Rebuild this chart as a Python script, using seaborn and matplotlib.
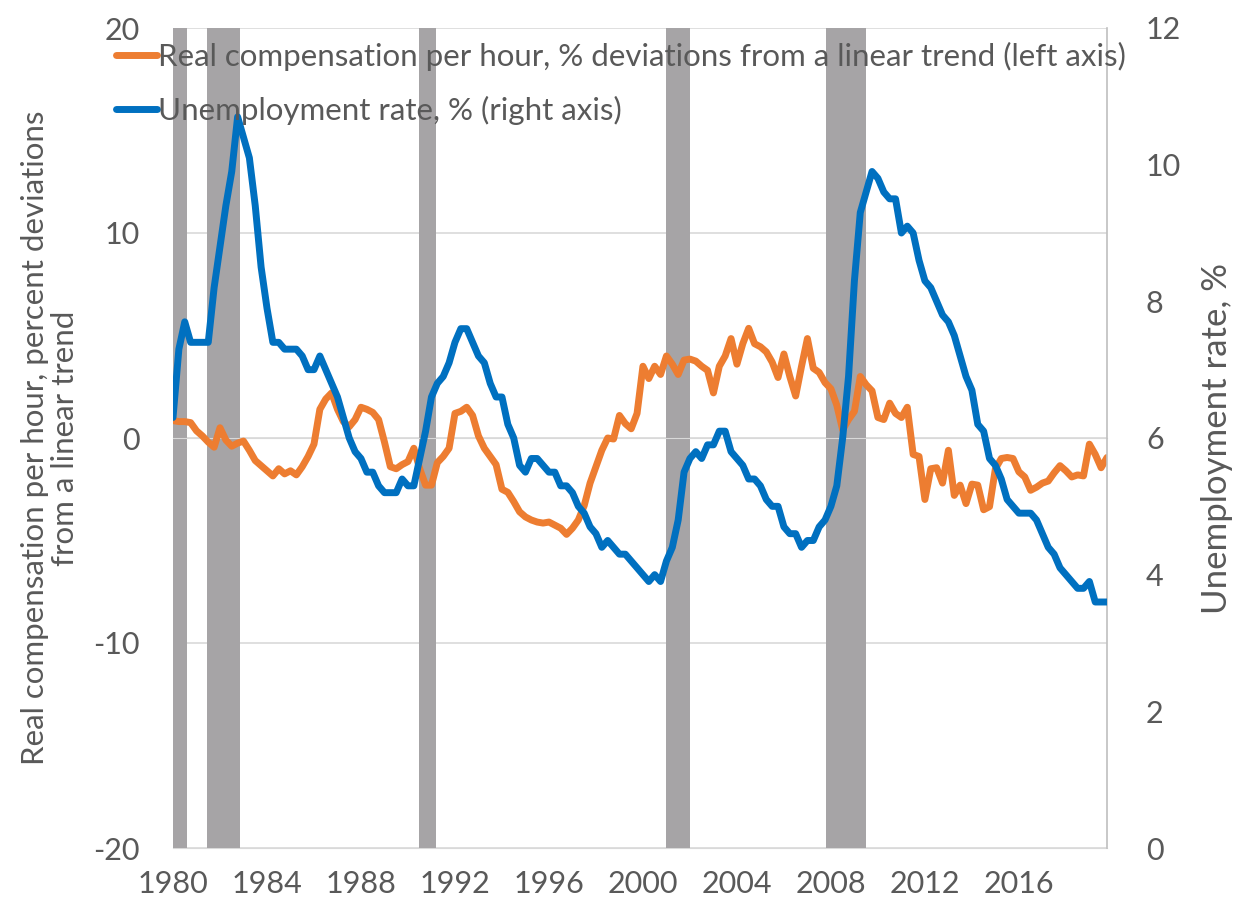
import matplotlib
matplotlib.use("Agg")
import matplotlib.pyplot as plt
import numpy as np
import pandas as pd
import seaborn as sns

# quarterly data, 1980Q1 - 2019Q4
start_year = 1980
n_quarters = 160

# real compensation per hour, % deviation from linear trend (left axis)
comp_dev = [
    0.85, 0.8, 0.8, 0.75, 0.35, 0.1, -0.2, -0.45, 0.5, -0.1,
    -0.4, -0.25, -0.15, -0.6, -1.1, -1.35, -1.6, -1.85, -1.5, -1.75,
    -1.6, -1.8, -1.4, -0.9, -0.3, 1.4, 1.9, 2.2, 1.4, 0.8,
    0.55, 0.9, 1.5, 1.4, 1.25, 0.9, -0.2, -1.4, -1.5, -1.3,
    -1.15, -0.5, -1.5, -2.3, -2.3, -1.2, -0.9, -0.5, 1.2, 1.3,
    1.5, 1.1, 0.1, -0.5, -0.9, -1.3, -2.5, -2.65, -3.1, -3.6,
    -3.85, -4.0, -4.1, -4.15, -4.1, -4.25, -4.4, -4.7, -4.4, -4.0,
    -3.3, -2.2, -1.4, -0.6, 0.0, -0.05, 1.1, 0.7, 0.45, 1.2,
    3.5, 2.9, 3.5, 3.1, 4.0, 3.6, 3.1, 3.8, 3.85, 3.75,
    3.5, 3.3, 2.2, 3.5, 4.0, 4.85, 3.6, 4.6, 5.35, 4.6,
    4.45, 4.2, 3.7, 2.95, 4.1, 3.0, 2.05, 3.5, 4.85, 3.4,
    3.2, 2.7, 2.4, 1.6, 0.4, 0.9, 1.3, 3.0, 2.6, 2.3,
    1.0, 0.9, 1.7, 1.2, 1.0, 1.5, -0.8, -0.9, -3.0, -1.5,
    -1.45, -2.2, -0.6, -2.8, -2.3, -3.2, -2.25, -2.3, -3.5, -3.35,
    -1.5, -1.0, -0.95, -1.0, -1.65, -1.9, -2.55, -2.4, -2.2, -2.1,
    -1.7, -1.35, -1.6, -1.9, -1.8, -1.85, -0.3, -0.8, -1.45, -0.95,
]

# unemployment rate, % (right axis)
unemp = [
    6.3, 7.3, 7.7, 7.4, 7.4, 7.4, 7.4, 8.2, 8.8, 9.4,
    9.9, 10.7, 10.4, 10.1, 9.4, 8.5, 7.9, 7.4, 7.4, 7.3,
    7.3, 7.3, 7.2, 7.0, 7.0, 7.2, 7.0, 6.8, 6.6, 6.3,
    6.0, 5.8, 5.7, 5.5, 5.5, 5.3, 5.2, 5.2, 5.2, 5.4,
    5.3, 5.3, 5.7, 6.1, 6.6, 6.8, 6.9, 7.1, 7.4, 7.6,
    7.6, 7.4, 7.2, 7.1, 6.8, 6.6, 6.6, 6.2, 6.0, 5.6,
    5.5, 5.7, 5.7, 5.6, 5.5, 5.5, 5.3, 5.3, 5.2, 5.0,
    4.9, 4.7, 4.6, 4.4, 4.5, 4.4, 4.3, 4.3, 4.2, 4.1,
    4.0, 3.9, 4.0, 3.9, 4.2, 4.4, 4.8, 5.5, 5.7, 5.8,
    5.7, 5.9, 5.9, 6.1, 6.1, 5.8, 5.7, 5.6, 5.4, 5.4,
    5.3, 5.1, 5.0, 5.0, 4.7, 4.6, 4.6, 4.4, 4.5, 4.5,
    4.7, 4.8, 5.0, 5.3, 6.0, 6.9, 8.3, 9.3, 9.6, 9.9,
    9.8, 9.6, 9.5, 9.5, 9.0, 9.1, 9.0, 8.6, 8.3, 8.2,
    8.0, 7.8, 7.7, 7.5, 7.2, 6.9, 6.7, 6.2, 6.1, 5.7,
    5.6, 5.4, 5.1, 5.0, 4.9, 4.9, 4.9, 4.8, 4.6, 4.4,
    4.3, 4.1, 4.0, 3.9, 3.8, 3.8, 3.9, 3.6, 3.6, 3.6,
]

# NBER recessions (decimal years)
rec_start = [1980.0, 1981.45, 1990.45, 2001.0, 2007.8]
rec_end = [1980.6, 1982.85, 1991.2, 2002.0, 2009.5]

year_ticks = [1980, 1984, 1988, 1992, 1996, 2000, 2004, 2008, 2012, 2016]
left_ticks = [-20, -10, 0, 10, 20]
right_ticks = [0, 2, 4, 6, 8, 10, 12]

df = pd.DataFrame({
    "date": start_year + np.arange(n_quarters) / 4,
    "comp": comp_dev,
    "unemp": unemp,
})

sns.set_style("white")
plt.rcParams["font.family"] = ["Lato", "DejaVu Sans"]
plt.rcParams["axes.unicode_minus"] = False

text_grey = "#595959"
grid_grey = "#d9d9d9"
orange = "#ED7D31"
blue = "#0070C0"

fig = plt.figure(figsize=(12.33, 9.11), dpi=100)
ax = fig.add_axes([173 / 1233, 1 - 848 / 911, (1107 - 173) / 1233, (848 - 28) / 911])
ax2 = ax.twinx()

for s, e in zip(rec_start, rec_end):
    ax.axvspan(s, e, color="#a6a4a6", lw=0, zorder=1)

sns.lineplot(data=df, x="date", y="comp", ax=ax, color=orange, linewidth=5,
             label="Real compensation per hour, % deviations from a linear trend (left axis)",
             legend=False, zorder=3)
sns.lineplot(data=df, x="date", y="unemp", ax=ax2, color=blue, linewidth=5,
             label="Unemployment rate, % (right axis)", legend=False, zorder=3)

ax.set_xlim(1980, 1980 + (n_quarters - 1) / 4)
ax.set_ylim(-20, 20)
ax2.set_ylim(0, 12)
ax.set_yticks(left_ticks)
ax2.set_yticks(right_ticks)
ax.set_xticks(year_ticks)
ax.set_xticklabels([str(y) for y in year_ticks])

ax.grid(axis="y", color=grid_grey, lw=1.2, zorder=0)
ax.set_axisbelow(True)

# the category axis crosses at zero: short ticks there, labels at the bottom
ax.spines["bottom"].set_position(("data", 0))
ax.spines["bottom"].set_color(grid_grey)
ax.tick_params(axis="x", direction="in", length=7, color=grid_grey, width=1.2,
               labelbottom=False)
sec = ax.secondary_xaxis(-0.0)
sec.set_xticks(year_ticks)
sec.set_xticklabels([str(y) for y in year_ticks])
sec.tick_params(length=0, labelsize=22, labelcolor=text_grey, pad=16)
sec.spines["bottom"].set_color(grid_grey)

for a in (ax, ax2):
    for side in ("top", "left"):
        a.spines[side].set_visible(False)
ax.spines["right"].set_visible(False)
ax2.spines["bottom"].set_visible(False)
ax2.spines["right"].set_color("#bfbfbf")
ax2.spines["right"].set_linewidth(1.2)

ax.tick_params(axis="y", length=0, labelsize=22, labelcolor=text_grey, pad=24)
ax2.tick_params(axis="y", length=0, labelsize=22, labelcolor=text_grey, pad=28)

ax.set_xlabel("")
ax.set_ylabel("Real compensation per hour, percent deviations\nfrom a linear trend",
              fontsize=22.5, color=text_grey, labelpad=10, linespacing=1.1)
ax2.set_ylabel("Unemployment rate, %", fontsize=25, color=text_grey, labelpad=14)

h1, l1 = ax.get_legend_handles_labels()
h2, l2 = ax2.get_legend_handles_labels()
leg = ax2.legend(h1 + h2, l1 + l2, loc="upper left",
                 bbox_to_anchor=(116 / 1233, 1 - 42 / 911), bbox_transform=fig.transFigure,
                 frameon=False, fontsize=22.5, handlelength=1.3, handletextpad=0.05,
                 borderpad=0, borderaxespad=0, labelspacing=0.78)
for t in leg.get_texts():
    t.set_color(text_grey)

fig.savefig("out.png", dpi=100, facecolor="white")
